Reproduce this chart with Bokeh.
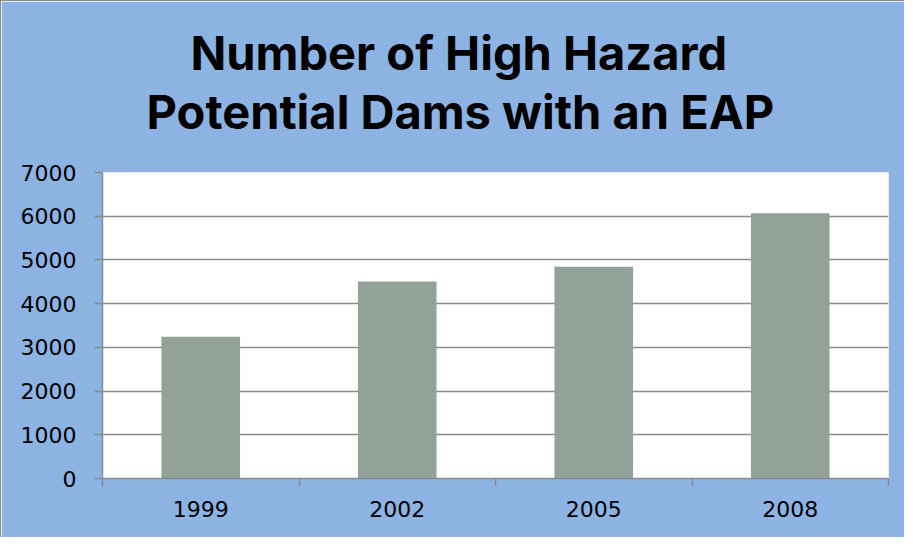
from bokeh.plotting import figure
from bokeh.models import Title, FixedTicker, Range1d, LinearAxis
from bokeh.embed import file_html
from bokeh.resources import INLINE

years = ["1999", "2002", "2005", "2008"]
dams = [3240, 4505, 4845, 6070]
y_ticks = [0, 1000, 2000, 3000, 4000, 5000, 6000, 7000]
title_lines = ["Number of High Hazard", "Potential Dams with an EAP"]

BG = "#8db3e2"
GRID = "#8a8a8a"
BAR = "#93a299"
TITLE_FONT = "Inter"

xs = [i + 0.5 for i in range(len(years))]

p = figure(width=904, height=537, output_backend="svg", toolbar_location=None,
           x_range=Range1d(0, len(years)), y_range=Range1d(0, 7000),
           min_border_left=101, min_border_right=17, min_border_bottom=60,
           min_border_top=171)
p.styles = {"border-left": "1px solid #8c8c8c", "border-top": "1px solid #8c8c8c"}
p.title.visible = False
p.background_fill_color = "white"
p.border_fill_color = BG
p.outline_line_color = None

p.vbar(x=xs, top=dams, width=0.4, fill_color=BAR, line_color=None)

# x axis: labels at bar centres, ticks at category boundaries
xt = FixedTicker(ticks=xs, minor_ticks=list(range(len(years) + 1)))
p.xaxis.ticker = xt
p.xaxis.major_label_overrides = {x: y for x, y in zip(xs, years)}
p.xaxis.major_tick_line_color = None
p.xaxis.minor_tick_line_color = GRID
p.xaxis.minor_tick_out = 8
p.xaxis.minor_tick_in = 0
p.xaxis.axis_line_color = GRID
p.xaxis.axis_line_width = 1.5
p.xaxis.minor_tick_line_width = 1.5
p.xaxis.major_label_text_font = "DejaVu Sans"
p.xaxis.major_label_text_font_size = "22px"
p.xaxis.major_label_text_color = "black"
p.xaxis.major_label_standoff = 14
p.xgrid.grid_line_color = None

p.yaxis.ticker = FixedTicker(ticks=y_ticks)
p.yaxis.minor_tick_line_color = None
p.yaxis.major_tick_line_color = GRID
p.yaxis.major_tick_out = 8
p.yaxis.major_tick_in = 0
p.yaxis.major_tick_line_width = 1.5
p.yaxis.axis_line_color = GRID
p.yaxis.axis_line_width = 1.5
p.yaxis.major_label_text_font = "DejaVu Sans"
p.yaxis.major_label_text_font_size = "22px"
p.yaxis.major_label_text_color = "black"
p.yaxis.major_label_standoff = 18
p.ygrid.grid_line_color = GRID
p.ygrid.grid_line_width = 1.5

# invisible spacer axis between the plot area and the title (added after styling p.xaxis)
spacer = LinearAxis(ticker=FixedTicker(ticks=xs, minor_ticks=[]), axis_line_color=None,
                    major_tick_line_color=None, minor_tick_line_color=None,
                    major_tick_out=33, major_tick_in=0, major_label_standoff=0,
                    minor_tick_out=0, minor_tick_in=0,
                    major_label_overrides={x: "" for x in xs},
                    major_label_text_font_size="0px")
p.add_layout(spacer, "above")

p.add_layout(Title(text=title_lines[1], align="left", text_font=TITLE_FONT,
                   text_font_style="bold", text_font_size="47px", text_color="black",
                   offset=44, standoff=0), "above")
p.add_layout(Title(text=title_lines[0], align="left", text_font=TITLE_FONT,
                   text_font_style="bold", text_font_size="47px", text_color="black",
                   offset=88, standoff=0), "above")

open("out.html", "w").write(file_html(p, INLINE))
